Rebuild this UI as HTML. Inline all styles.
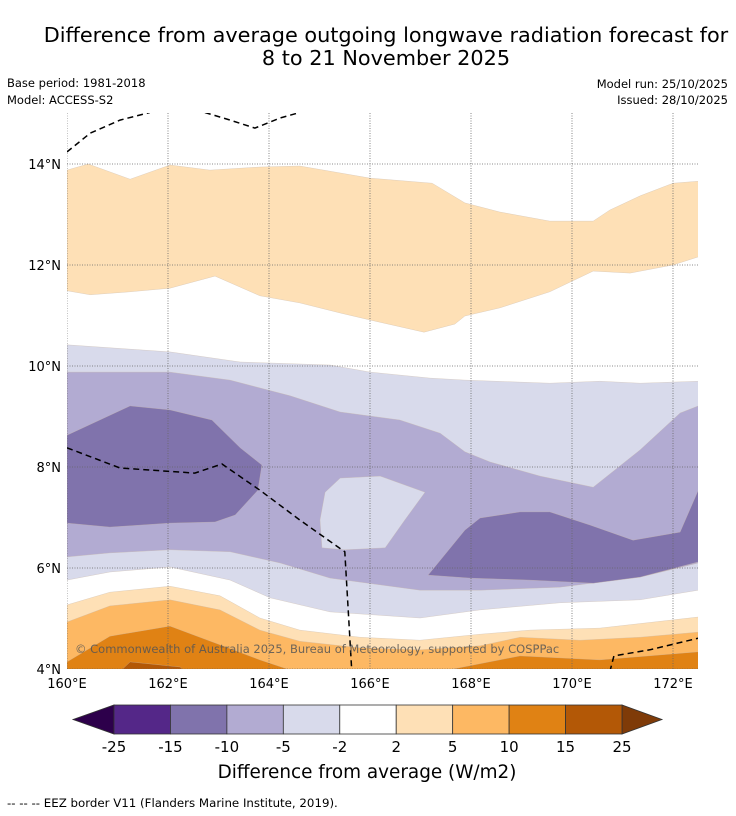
<!DOCTYPE html>
<html><head><meta charset="utf-8"><style>
body{margin:0;background:#fff;width:736px;height:816px;overflow:hidden}
svg{display:block;font-family:"DejaVu Sans","Liberation Sans",sans-serif}
</style></head><body>
<svg id="chart" width="736" height="816" viewBox="0 0 736 816">
<text x="386" y="42" font-size="20.8" text-anchor="middle">Difference from average outgoing longwave radiation forecast for</text>
<text x="386" y="65" font-size="20.8" text-anchor="middle">8 to 21 November 2025</text>
<text x="7" y="87" font-size="11.5">Base period: 1981-2018</text>
<text x="7" y="104" font-size="11.5">Model: ACCESS-S2</text>
<text x="728" y="88" font-size="11.5" text-anchor="end">Model run: 25/10/2025</text>
<text x="728" y="104" font-size="11.5" text-anchor="end">Issued: 28/10/2025</text>
<defs><clipPath id="mapclip"><rect x="67" y="113" width="631" height="556"/></clipPath></defs>
<g id="map" clip-path="url(#mapclip)"></g>
<g id="axes"></g>
<g id="cbar"></g>
<text x="367" y="778" font-size="18.4" text-anchor="middle">Difference from average (W/m2)</text>
<text x="7" y="807" font-size="11.8">--  --  -- EEZ border V11 (Flanders Marine Institute, 2019).</text>
</svg>
<script>
const lonTicks=[160,162,164,166,168,170,172];
const latTicks=[4,6,8,10,12,14];
const cbLevels=[-25,-15,-10,-5,-2,2,5,10,15,25];
const cbColors=['#542788','#8073ac','#b2abd2','#d8daeb','#ffffff','#fee0b6','#fdb863','#e08214','#b35806'];
const cbExtLow='#2d004b', cbExtHigh='#7f3b08';
const topBand=[[160,13.88],[160.42,14],[161.25,13.70],[162.04,13.98],[162.83,13.88],[163.82,13.94],[164.61,13.96],[166,13.72],[167.23,13.62],[167.88,13.23],[168.57,13.05],[169.56,12.87],[170.42,12.87],[170.75,13.09],[171.35,13.37],[172,13.62],[172.5,13.66],[172.5,12.16],[172,12],[171.15,11.84],[170.42,11.88],[169.56,11.47],[168.57,11.15],[167.88,10.99],[167.68,10.83],[167.07,10.67],[166,10.91],[165.41,11.05],[164.61,11.25],[163.82,11.39],[162.93,11.78],[162.04,11.54],[161.25,11.47],[160.46,11.41],[160,11.49]];
const lightBand=[[160,10.42],[162.04,10.28],[163.43,10.08],[165.21,10.02],[166,9.88],[167.19,9.76],[167.88,9.72],[169.56,9.66],[170.55,9.70],[171.35,9.66],[172.5,9.70],[172.5,5.56],[171.35,5.37],[169.76,5.31],[168.18,5.17],[166.99,5.01],[165.21,5.13],[164.02,5.41],[163.23,5.76],[162.04,6.02],[160.85,5.92],[160,5.76]];
const mediumBand=[[160,9.88],[160.85,9.88],[162.04,9.88],[163.23,9.72],[164.42,9.41],[165.41,9.09],[166.59,8.93],[167.39,8.67],[167.88,8.30],[168.38,8.10],[169.37,7.82],[170.42,7.60],[171.35,8.34],[172.14,9.07],[172.5,9.21],[172.5,6.10],[171.35,5.82],[169.76,5.62],[168.18,5.56],[166.99,5.56],[165.21,5.80],[164.22,6.10],[163.23,6.32],[162.04,6.36],[160.85,6.30],[160,6.22]];
const lightIsland=[[165.41,7.78],[166.2,7.82],[167.09,7.50],[166.69,6.95],[166.3,6.40],[165.5,6.36],[165.05,6.40],[165.01,6.95],[165.11,7.50]];
const darkLeft=[[160,8.63],[161.25,9.21],[162.04,9.13],[162.87,8.93],[163.43,8.38],[163.86,8.04],[163.78,7.54],[163.33,7.05],[162.93,6.91],[162.04,6.89],[160.85,6.81],[160,6.89]];
const darkRight=[[167.15,5.86],[167.88,6.75],[168.18,6.99],[168.97,7.11],[169.56,7.11],[170.36,6.85],[171.21,6.55],[172.14,6.71],[172.5,7.54],[172.5,6.12],[171.35,5.82],[170.42,5.70],[169.17,5.76],[167.98,5.80]];
const paleOrange=[[160,5.27],[160.85,5.52],[162.04,5.64],[163.03,5.45],[163.82,5.01],[164.61,4.77],[165.8,4.63],[166.99,4.57],[168.18,4.69],[169.17,4.77],[170.55,4.81],[172.5,5.03],[172.5,3.9],[160,3.9]];
const orangeBand=[[160,4.93],[160.85,5.25],[162.04,5.37],[163.03,5.17],[163.82,4.77],[164.61,4.55],[165.8,4.42],[166.99,4.38],[168.18,4.46],[168.97,4.63],[170.16,4.57],[171.35,4.63],[172.5,4.73],[172.5,3.9],[160,3.9]];
const darkOrangeL=[[160,4.14],[160.85,4.65],[162.04,4.85],[163.03,4.48],[163.82,4.18],[164.51,3.95],[160,3.95]];
const darkOrangeR=[[167.39,3.95],[168.97,4.26],[170.55,4.18],[172.5,4.34],[172.5,3.95]];
const darkestBand=[[161.05,3.95],[161.25,4.14],[162.24,4.04],[162.34,3.95]];
const eezTopA=[[160,14.24],[160.46,14.61],[161.05,14.87],[161.64,15.02]];
const eezTopB=[[162.73,15.02],[163.23,14.87],[163.72,14.71],[164.22,14.91],[164.61,15.02]];
const eezMid=[[160,8.38],[161.05,7.98],[162.53,7.88],[163.07,8.06],[163.82,7.54],[164.61,6.95],[165.5,6.32],[165.64,3.95]];
const eezSE=[[170.75,3.95],[170.83,4.26],[171.54,4.38],[172.5,4.61]];

const NS='http://www.w3.org/2000/svg';
const X=lon=>67+(lon-160)*50.5;
const Y=lat=>164+(14-lat)*50.5;
const CX=v=>{const i=cbLevels.indexOf(v);return 114+i*(508/(cbLevels.length-1));};
function mk(tag,attrs,parent){const e=document.createElementNS(NS,tag);for(const k in attrs)e.setAttribute(k,attrs[k]);parent.appendChild(e);return e;}
const map=document.getElementById('map'),axes=document.getElementById('axes'),cbar=document.getElementById('cbar');
const pts=a=>a.map(p=>X(p[0]).toFixed(1)+','+Y(p[1]).toFixed(1)).join(' ');
const layers=[[topBand,'#fee0b6','top-positive-band'],[lightBand,'#d8daeb','band-minus-2-to-5'],[mediumBand,'#b2abd2','band-minus-5-to-10'],[lightIsland,'#d8daeb','light-island'],[darkLeft,'#8073ac','band-minus-10-to-15-west'],[darkRight,'#8073ac','band-minus-10-to-15-east'],[paleOrange,'#fee0b6','band-2-to-5'],[orangeBand,'#fdb863','band-5-to-10'],[darkOrangeL,'#e08214','band-10-to-15-west'],[darkOrangeR,'#e08214','band-10-to-15-east'],[darkestBand,'#b35806','band-15-to-25']];
layers.forEach(l=>{
 const p=mk('polygon',{points:pts(l[0]),fill:l[1],stroke:'#c9b9a9','stroke-width':'0.3'},map);
 
 
});
lonTicks.forEach(v=>{
 const g=mk('line',{x1:X(v),x2:X(v),y1:113,y2:669,stroke:'#666','stroke-width':'0.8','stroke-dasharray':'1,1.5'},map);
 
 
 const t=mk('text',{x:X(v),y:688,'font-size':13,'text-anchor':'middle'},axes);t.textContent=v+'°E';
 
 
});
latTicks.forEach(v=>{
 const g=mk('line',{x1:67,x2:698,y1:Y(v),y2:Y(v),stroke:'#666','stroke-width':'0.8','stroke-dasharray':'1,1.5'},map);
 
 
 const t=mk('text',{x:61,y:Y(v)+5,'font-size':13,'text-anchor':'end'},axes);t.textContent=v+'°N';
 
 
});
[eezTopA,eezTopB,eezMid,eezSE].forEach(a=>{
 const l=mk('polyline',{points:pts(a),fill:'none',stroke:'#000','stroke-width':'1.5','stroke-dasharray':'6,4'},map);
 
 
});
const cr=mk('text',{x:75,y:653,'font-size':11.5,fill:'#555','fill-opacity':'0.85'},map);
cr.textContent='© Commonwealth of Australia 2025, Bureau of Meteorology, supported by COSPPac';


const low=mk('polygon',{points:`73,719.5 ${CX(-25)},705 ${CX(-25)},734`,fill:cbExtLow,stroke:'#333','stroke-width':'0.8'},cbar);


const hi=mk('polygon',{points:`662,719.5 ${CX(25)},705 ${CX(25)},734`,fill:cbExtHigh,stroke:'#333','stroke-width':'0.8'},cbar);


cbColors.forEach((c,i)=>{
 const r=mk('rect',{x:CX(cbLevels[i]),y:705,width:CX(cbLevels[i+1])-CX(cbLevels[i]),height:29,fill:c,stroke:'#333','stroke-width':'0.8'},cbar);
 
 
});
cbLevels.forEach(v=>{
 const t=mk('text',{x:CX(v),y:752,'font-size':15,'text-anchor':'middle'},cbar);t.textContent=v;
 
 
});
</script>
</body></html>
